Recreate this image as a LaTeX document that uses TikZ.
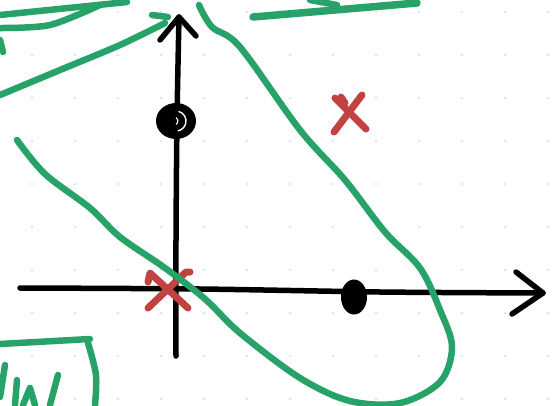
\documentclass[tikz,border=0pt]{standalone}
\usepackage{xcolor}
\usepackage{tikz}
\usetikzlibrary{calc}

\definecolor{penGreen}{HTML}{27A36A}
\definecolor{penRed}{HTML}{C24141}
\definecolor{gridDot}{HTML}{D3E4FB}

\begin{document}
\begin{tikzpicture}[x=1pt, y=-1pt,
    axis/.style={line width=5.5pt, line cap=round, line join=round, black},
    greenline/.style={line width=6.5pt, line cap=round, line join=round, penGreen},
    redmark/.style={line width=7pt, line cap=round, line join=round, penRed}]
  \useasboundingbox (0,0) rectangle (557,405);

  % Dot grid
  \foreach \x in {32,75,...,548}
    \foreach \y in {12,55,...,399}
      \fill[gridDot] (\x,\y) circle (1.3);

  % Axes
  \coordinate (ybot) at (176,356);
  \coordinate (ytop) at (179,17);
  \coordinate (xleft) at (20,288);
  \coordinate (xright) at (543,293);
  \draw[axis] plot[smooth] coordinates {(ybot) (176,240) (177,120) (ytop)};
  \draw[axis] (160,40) -- (ytop) -- (196,36);
  \draw[axis] plot[smooth] coordinates {(xleft) (200,289) (380,292) (xright)};
  \draw[axis] (516,272) -- (xright) -- (512,314);

  % Double circle on the y axis
  \fill (176,121) ellipse (20 and 18);
  \draw[white, line width=1.4pt] (176,121) ++(-75:10) arc (-75:80:10);
  \draw[white, line width=1.1pt] (174,121) ++(-60:4) arc (-60:60:4);

  % Black dot on the x axis
  \fill (354,297) ellipse (13 and 17.5);

  % Red crosses
  \draw[redmark] (148,282) -- (150,273) -- (188,308);
  \draw[redmark] (148,308) -- (186,272) -- (190,272);
  \draw[redmark] (335,98) -- (366,129);
  \draw[redmark] (341,97) -- (345,103);
  \draw[redmark] (362,95) -- (334,132);

  % Green curves
  \draw[greenline] plot[smooth, tension=0.55] coordinates {(199,5) (212,27) (240,47)
    (300,130) (345,180) (385,232) (420,268) (440,310) (452,347)
    (440,382) (400,403) (350,401) (300,378) (240,333) (205,299)
    (165,268) (120,237) (90,208) (45,174) (17,140)};
  \draw[greenline] plot[smooth] coordinates {(0,95) (60,70) (120,45) (165,23)};
  \draw[greenline] (152,15) -- (168,17);
  \draw[greenline] (0,15) -- (127,2);
  \draw[greenline] plot[smooth] coordinates {(0,28) (50,25) (100,5)};
  \draw[greenline] (0,40) -- (3,52);
  \draw[greenline, line width=7.5pt] plot[smooth] coordinates {(253,17) (300,13) (417,3)};
  \draw[greenline] (310,0) -- (337,5);

  % Scribble in the lower left
  \draw[greenline] (0,344) -- (90,339);
  \draw[greenline] plot[smooth] coordinates {(88,343) (96,375) (95,405)};
  \draw[greenline] (5,365) -- (0,397);
  \draw[greenline] (17,380) -- (15,405);
  \draw[greenline] (23,405) -- (30,388) -- (35,405);
  \draw[greenline] (58,375) -- (50,405);
\end{tikzpicture}
\end{document}
